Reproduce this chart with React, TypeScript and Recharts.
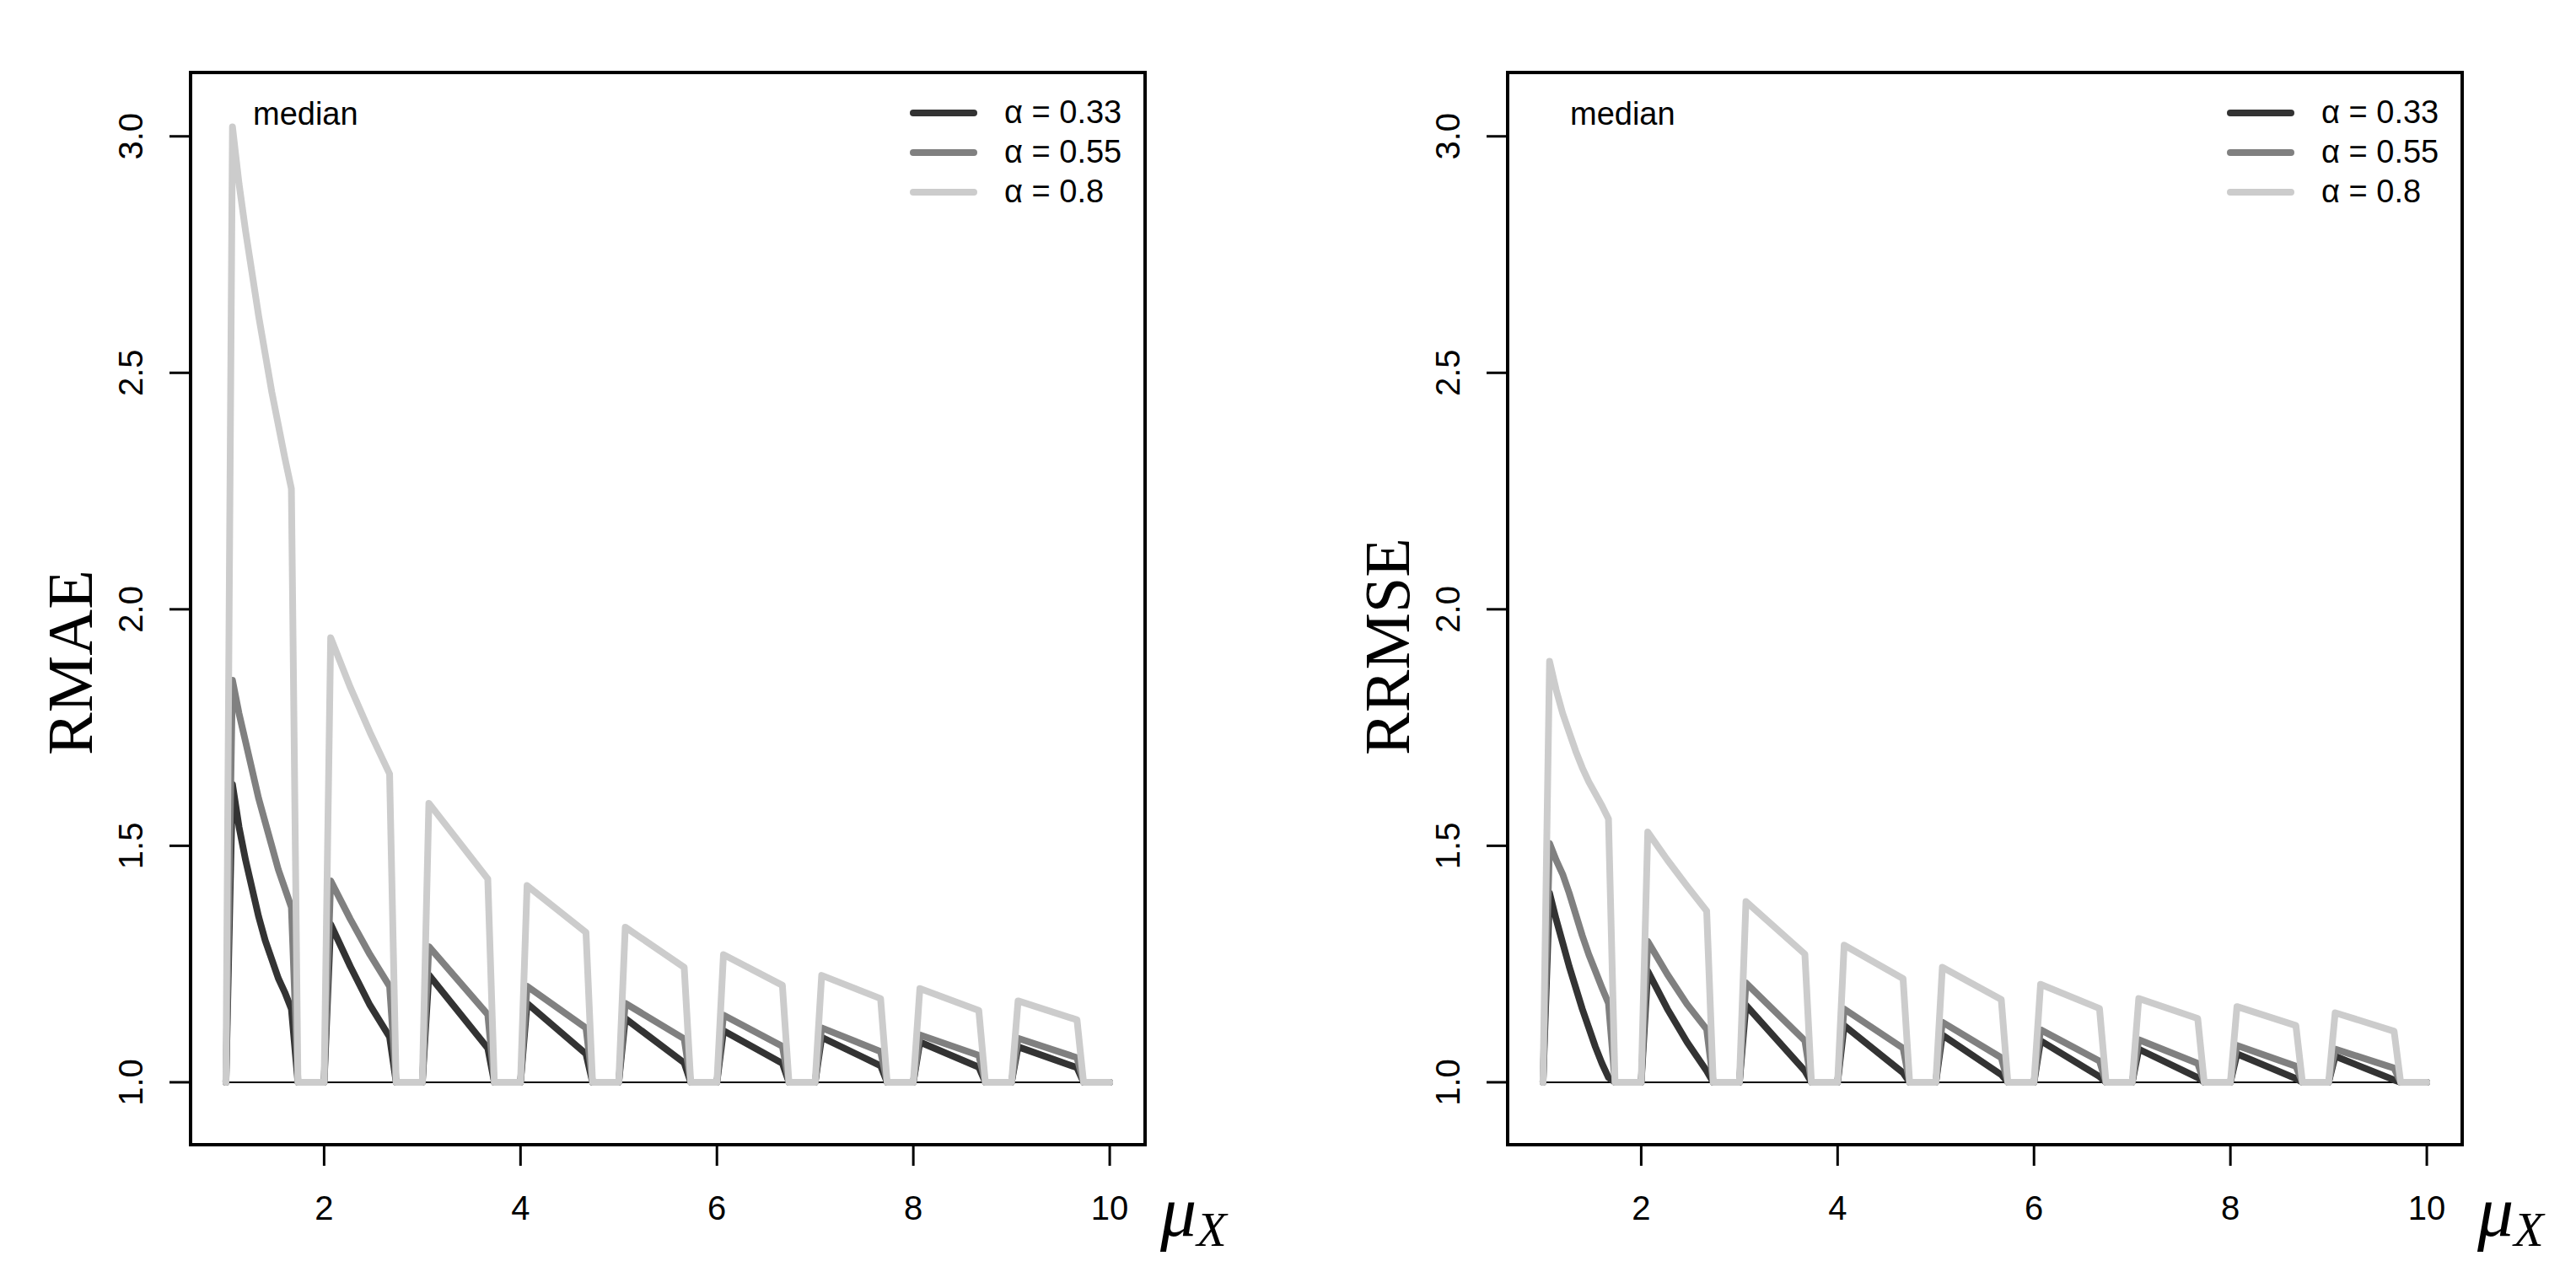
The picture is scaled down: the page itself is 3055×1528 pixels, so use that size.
import React from "react";
import { LineChart, Line, XAxis, YAxis, ReferenceArea } from "recharts";

// μ grid: each unit holds 15 steps; jump at k, peak at k+1/15, last high value at k+10/15, back to 1 at k+11/15
const STEP = 1 / 15;

const xTicks = [2, 4, 6, 8, 10];
const yTicks = [1, 1.5, 2, 2.5, 3];
const alphaLabels = ["α = 0.33", "α = 0.55", "α = 0.8"];
const greys = ["#333333", "#808080", "#cccccc"];
const baseMu = [1, 10];
const baseValue = 1;

// RMAE panel, one list per μ unit (k = 1..9), values read between k+1/15 and k+10/15
const rmaeA033 = [
  [1.63, 1.54, 1.47, 1.41, 1.35, 1.3, 1.26, 1.22, 1.19, 1.155],
  [1.334, 1.245, 1.163, 1.096],
  [1.227, 1.072],
  [1.167, 1.06],
  [1.135, 1.041],
  [1.109, 1.04],
  [1.095, 1.035],
  [1.085, 1.032],
  [1.075, 1.031],
];
const rmaeA055 = [
  [1.85, 1.78, 1.72, 1.66, 1.6, 1.55, 1.5, 1.45, 1.41, 1.37],
  [1.426, 1.345, 1.27, 1.203],
  [1.287, 1.143],
  [1.203, 1.115],
  [1.167, 1.092],
  [1.142, 1.076],
  [1.115, 1.065],
  [1.1, 1.057],
  [1.093, 1.052],
];
const rmaeA08 = [
  [3.02, 2.9, 2.8, 2.71, 2.62, 2.54, 2.46, 2.39, 2.32, 2.255],
  [1.94, 1.835, 1.74, 1.652],
  [1.59, 1.43],
  [1.416, 1.317],
  [1.328, 1.243],
  [1.27, 1.205],
  [1.226, 1.177],
  [1.198, 1.152],
  [1.172, 1.132],
];

// RRMSE panel
const rrmseA033 = [
  [1.4, 1.345, 1.295, 1.245, 1.2, 1.155, 1.115, 1.075, 1.04, 1.01],
  [1.235, 1.155, 1.085, 1.024],
  [1.163, 1.024],
  [1.12, 1.02],
  [1.1, 1.016],
  [1.088, 1.012],
  [1.07, 1.01],
  [1.06, 1.008],
  [1.055, 1.005],
];
const rrmseA055 = [
  [1.505, 1.47, 1.44, 1.4, 1.355, 1.31, 1.27, 1.235, 1.2, 1.167],
  [1.298, 1.228, 1.165, 1.112],
  [1.21, 1.088],
  [1.155, 1.072],
  [1.127, 1.052],
  [1.111, 1.045],
  [1.09, 1.04],
  [1.078, 1.034],
  [1.07, 1.03],
];
const rrmseA08 = [
  [1.89, 1.83, 1.78, 1.74, 1.7, 1.665, 1.635, 1.61, 1.585, 1.557],
  [1.529, 1.47, 1.415, 1.362],
  [1.382, 1.271],
  [1.29, 1.219],
  [1.243, 1.175],
  [1.207, 1.156],
  [1.177, 1.135],
  [1.16, 1.12],
  [1.147, 1.108],
];

type Pt = { mu: number; v: number };

function buildSeries(segs: number[][]): Pt[] {
  const pts: Pt[] = [];
  segs.forEach((vals, i) => {
    const k = i + 1;
    pts.push({ mu: k, v: 1 });
    vals.forEach((v, j) => {
      const t = vals.length > 1 ? j / (vals.length - 1) : 0;
      pts.push({ mu: k + STEP + t * 9 * STEP, v });
    });
    pts.push({ mu: k + 11 * STEP, v: 1 });
  });
  pts.push({ mu: 10, v: 1 });
  return pts;
}

const baseline: Pt[] = baseMu.map((mu) => ({ mu, v: baseValue }));

const X_DOMAIN: [number, number] = [0.64, 10.36];
const Y_DOMAIN: [number, number] = [0.868, 3.135];
const SANS = "'Liberation Sans', Arial, Helvetica, sans-serif";
const SERIF = "'Liberation Serif', 'Times New Roman', serif";

const XTick = (props: any) => {
  const { x, y, payload } = props;
  return (
    <text x={x} y={y + 64} textAnchor="middle" fontFamily={SANS} fontSize={40} fill="#000">
      {payload.value}
    </text>
  );
};

const YTick = (props: any) => {
  const { x, y, payload } = props;
  const cx = x - 46;
  return (
    <text
      x={cx}
      y={y}
      dy="0.36em"
      textAnchor="middle"
      transform={`rotate(-90 ${cx} ${y})`}
      fontFamily={SANS}
      fontSize={40}
      fill="#000"
    >
      {Number(payload.value).toFixed(1)}
    </text>
  );
};

function Panel({ series }: { series: number[][][] }) {
  return (
    <LineChart width={1562} height={1528} margin={{ top: 86, right: 204, bottom: 70, left: 126 }}>
      <XAxis
        dataKey="mu"
        type="number"
        domain={X_DOMAIN}
        allowDataOverflow
        ticks={xTicks}
        interval={0}
        axisLine={false}
        tickLine={{ stroke: "#000", strokeWidth: 3 }}
        tickSize={25}
        tickMargin={0}
        height={100}
        tick={<XTick />}
      />
      <YAxis
        type="number"
        domain={Y_DOMAIN}
        allowDataOverflow
        ticks={yTicks}
        interval={0}
        axisLine={false}
        tickLine={{ stroke: "#000", strokeWidth: 3 }}
        tickSize={25}
        tickMargin={0}
        width={100}
        tick={<YTick />}
      />
      <ReferenceArea
        x1={X_DOMAIN[0]}
        x2={X_DOMAIN[1]}
        y1={Y_DOMAIN[0]}
        y2={Y_DOMAIN[1]}
        fill="none"
        stroke="#000"
        strokeWidth={4}
      />
      <Line
        data={baseline}
        dataKey="v"
        type="linear"
        stroke="#000"
        strokeWidth={2}
        dot={false}
        isAnimationActive={false}
        legendType="none"
      />
      {series.map((segs, i) => (
        <Line
          key={alphaLabels[i]}
          name={alphaLabels[i]}
          data={buildSeries(segs)}
          dataKey="v"
          type="linear"
          stroke={greys[i]}
          strokeWidth={8}
          strokeLinecap="round"
          strokeLinejoin="round"
          dot={false}
          isAnimationActive={false}
        />
      ))}
    </LineChart>
  );
}

function Annotations({ dx, ylab }: { dx: number; ylab: string }) {
  return (
    <g transform={`translate(${dx},0)`}>
      <text x={300} y={148} fontFamily={SANS} fontSize={38} fill="#000">
        median
      </text>
      {alphaLabels.map((lab, i) => (
        <g key={lab}>
          <line x1={1083} x2={1155} y1={134 + i * 47} y2={134 + i * 47} stroke={greys[i]} strokeWidth={8} strokeLinecap="round" />
          <text x={1191} y={146 + i * 47} fontFamily={SANS} fontSize={38} fill="#000">
            {lab}
          </text>
        </g>
      ))}
      <text
        x={84}
        y={896}
        dy="0.33em"
        transform={`rotate(-90 84 896)`}
        fontFamily={SERIF}
        fontSize={76}
        fill="#000"
      >
        {ylab}
      </text>
      <text x={1376} y={1466} fontFamily={SERIF} fontStyle="italic" fontSize={86} fill="#000">
        μ
        <tspan fontSize={58} dy={12}>
          X
        </tspan>
      </text>
    </g>
  );
}

export default function App() {
  return (
    <div style={{ position: "absolute", left: 0, top: 0, width: 3055, height: 1528, background: "#fff" }}>
      <div style={{ position: "absolute", left: 0, top: 0 }}>
        <Panel series={[rmaeA033, rmaeA055, rmaeA08]} />
      </div>
      <div style={{ position: "absolute", left: 1562, top: 0 }}>
        <Panel series={[rrmseA033, rrmseA055, rrmseA08]} />
      </div>
      <svg
        width={3055}
        height={1528}
        style={{ position: "absolute", left: 0, top: 0, pointerEvents: "none" }}
      >
        <Annotations dx={0} ylab="RMAE" />
        <Annotations dx={1562} ylab="RRMSE" />
      </svg>
    </div>
  );
}
